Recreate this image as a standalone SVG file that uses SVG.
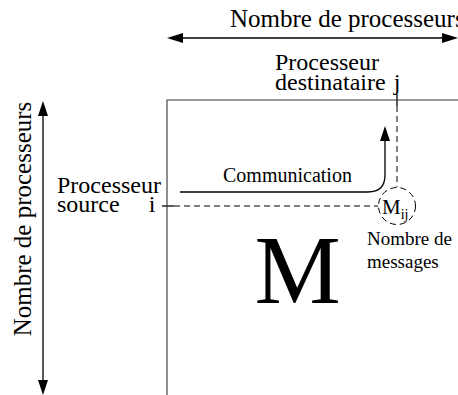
<svg xmlns="http://www.w3.org/2000/svg" width="458" height="395" viewBox="0 0 458 395">
<defs>
<style>
text{font-family:"Liberation Serif","Times New Roman",serif;fill:#000}
.l{stroke:#000;stroke-width:1.3;fill:none}
.b{stroke:#333;stroke-width:1.1;fill:none}
.d{stroke:#000;stroke-width:1;fill:none;stroke-dasharray:6 4}
.h{fill:#000;stroke:none}
</style>
</defs>
<rect width="458" height="395" fill="#fff"/>
<g id="connectors">
<line class="l" x1="180" y1="38" x2="445" y2="38"/>
<polygon class="h" points="167,38 183,33 183,43"/>
<polygon class="h" points="458,38 442,33 442,43"/>
<line class="l" x1="43" y1="112" x2="43" y2="384"/>
<polygon class="h" points="43,101 38,116 48,116"/>
<polygon class="h" points="43,395 38,380 48,380"/>
<path class="l" d="M180,192 L368,192 Q385,192 385,175 L385,138"/>
<polygon class="h" points="385,126 380,141 390,141"/>
<line class="d" x1="174" y1="206" x2="378" y2="206"/>
<line class="d" x1="397" y1="106" x2="397" y2="187"/>
<line class="l" x1="162" y1="206" x2="174" y2="206"/>
<line class="l" x1="397" y1="94" x2="397" y2="106"/>
</g>
<g id="matrix">
<path class="b" d="M167,395 L167,100 L458,100"/>
<text x="297.5" y="303" font-size="97" text-anchor="middle">M</text>
</g>
<g id="top-label">
<text x="230" y="27" font-size="25">Nombre de processeurs</text>
</g>
<g id="left-label">
<text transform="translate(31,219) rotate(-90)" font-size="25" text-anchor="middle">Nombre de processeurs</text>
</g>
<g id="destination">
<text x="275" y="70" font-size="24">Processeur</text>
<text x="275" y="90" font-size="24">destinataire</text>
<text x="397" y="90" font-size="24" text-anchor="middle">j</text>
</g>
<g id="source">
<text x="57" y="193" font-size="24">Processeur</text>
<text x="57" y="212" font-size="24">source</text>
<text x="152" y="212" font-size="24" text-anchor="middle">i</text>
</g>
<g id="communication">
<text x="223" y="182" font-size="20">Communication</text>
</g>
<g id="mij">
<circle class="d" cx="397" cy="206" r="18.5"/>
<text x="382" y="214" font-size="21">M<tspan font-size="14" dy="5">ij</tspan></text>
<text x="367" y="245" font-size="19">Nombre de</text>
<text x="367" y="268" font-size="19">messages</text>
</g>
</svg>
